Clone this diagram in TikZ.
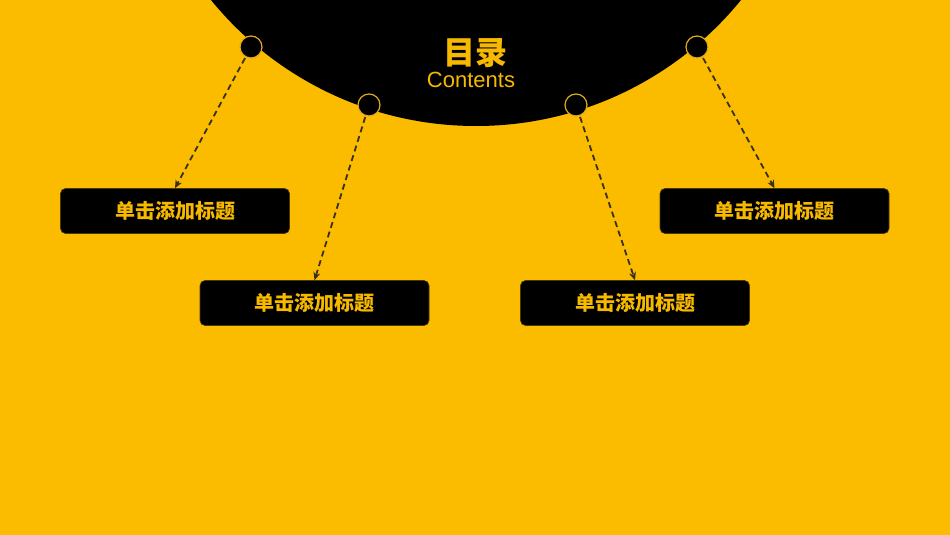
\documentclass[tikz,border=0pt]{standalone}
\usepackage{fontspec}
\setmainfont{Liberation Sans}
\newfontfamily\cjk{Noto Sans CJK SC}
\usetikzlibrary{arrows.meta}
\definecolor{bgyellow}{HTML}{FBBC00}
\definecolor{txtyellow}{HTML}{F6B900}
\definecolor{ringgold}{HTML}{E0AA20}
\definecolor{arrowgray}{HTML}{3A3020}
\definecolor{boxedge}{HTML}{4A3A08}
\tikzset{
  dotnode/.style={circle, minimum size=22pt, inner sep=0pt, fill=black, draw=ringgold, line width=1.2pt},
  titlebox/.style={rounded corners=5pt, minimum width=229pt, minimum height=45pt, inner sep=0pt,
    fill=black, draw=boxedge, line width=0.6pt, text=txtyellow, font=\cjk\bfseries\fontsize{20}{22}\selectfont},
  dasharrow/.style={draw=arrowgray, line width=1.8pt, dash pattern=on 6pt off 4pt,
    -{Stealth[length=8pt,width=7pt]}, shorten <=1pt}
}
\begin{document}
\begin{tikzpicture}[x=1pt,y=-1pt]
\useasboundingbox (0,0) rectangle (950,535);
\fill[bgyellow] (0,0) rectangle (950,535);
\begin{scope}
  \clip (0,0) rectangle (950,535);
  \fill[black] (476,-215.7) circle (341.7pt);
\end{scope}
\node[text=txtyellow, font=\cjk\bfseries\fontsize{32}{36}\selectfont] (title) at (475,53) {目录};
\node[text=txtyellow, font=\fontsize{22}{24}\selectfont, anchor=base] (sub) at (471,88) {Contents};
\node[dotnode] (c1) at (251,47) {};
\node[dotnode] (c2) at (369,105) {};
\node[dotnode] (c3) at (576,105) {};
\node[dotnode] (c4) at (697,47) {};
\node[titlebox] (b1) at (175,211) {单击添加标题};
\node[titlebox] (b2) at (314.5,303) {单击添加标题};
\node[titlebox] (b3) at (635,303) {单击添加标题};
\node[titlebox] (b4) at (774.5,211) {单击添加标题};
\draw[dasharrow] (c1) -- (b1.north);
\draw[dasharrow] (c2) -- (b2.north);
\draw[dasharrow] (c3) -- (b3.north);
\draw[dasharrow] (c4) -- (b4.north);
\end{tikzpicture}
\end{document}
